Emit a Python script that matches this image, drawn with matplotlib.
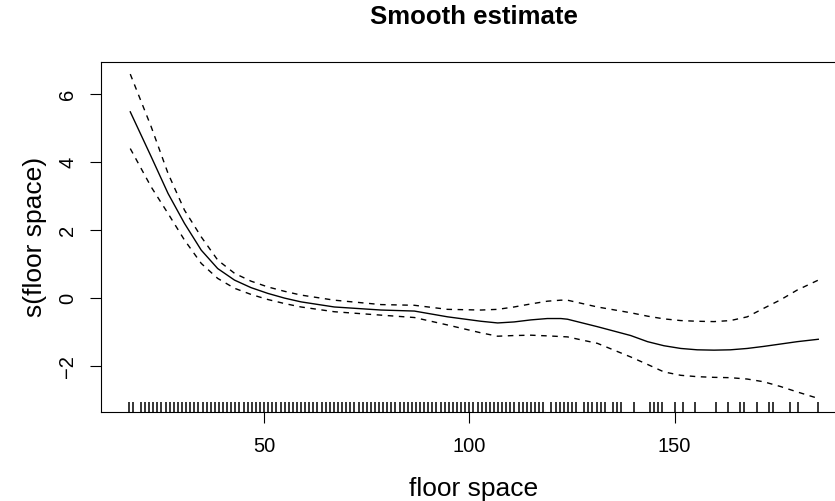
import numpy as np
import matplotlib
matplotlib.use("Agg")
from matplotlib import pyplot as plt

#values
floor_space = [17.4, 22.5, 26.6, 30.6, 34.7, 38.7, 42.8, 46.8, 50.9, 55, 59, 67.1, 78.5, 86.6,
               94.7, 102.8, 106.9, 110.9, 115, 119, 122.3, 123.9, 131.2, 139.3, 143.4,
               147.4, 151.5, 155.5, 159.6, 163.6, 167.7, 171.7, 175.8, 179.9, 185]
fit = [5.48, 4.16, 3.08, 2.2, 1.41, 0.87, 0.53, 0.31, 0.14, 0.0, -0.11, -0.26, -0.35, -0.38,
       -0.55, -0.68, -0.73, -0.70, -0.64, -0.60, -0.60, -0.62, -0.84, -1.10, -1.28,
       -1.40, -1.48, -1.52, -1.53, -1.52, -1.48, -1.42, -1.35, -1.28, -1.21]
upper = [6.59, 5.04, 3.67, 2.59, 1.8, 1.12, 0.73, 0.50, 0.33, 0.20, 0.09, -0.06, -0.19, -0.21,
         -0.33, -0.35, -0.33, -0.26, -0.17, -0.09, -0.06, -0.06, -0.26, -0.43, -0.53,
         -0.61, -0.66, -0.68, -0.69, -0.66, -0.55, -0.30, -0.05, 0.24, 0.53]
lower = [4.4, 3.27, 2.49, 1.71, 1.02, 0.58, 0.29, 0.11, -0.04, -0.16, -0.26, -0.4, -0.5, -0.57,
         -0.79, -1.02, -1.12, -1.10, -1.09, -1.11, -1.13, -1.14, -1.33, -1.73, -1.95,
         -2.17, -2.27, -2.31, -2.33, -2.34, -2.38, -2.46, -2.60, -2.76, -2.95]

#observed floor space values (rug)
rug_x = [17, 18] + list(range(20, 119)) + [120, 121, 122, 123, 124, 125, 126,
         128, 129, 130, 131, 132, 133, 135, 136, 137, 140, 144, 145, 146, 147,
         150, 152, 155, 160, 163, 166, 167, 170, 173, 174, 178, 180, 185]

x_ticks = [50, 100, 150]
y_ticks = [-2, 0, 2, 4, 6]

plt.rcParams['font.family'] = ['Liberation Sans', 'DejaVu Sans']

fig = plt.figure(figsize=(8.35, 5.01), dpi=100)
ax = fig.add_axes([0.121, 0.1776, 0.892, 0.6996])

ax.plot(floor_space, fit, color='black', linewidth=1)
ax.plot(floor_space, upper, color='black', linewidth=1, linestyle=(0, (4, 4)))
ax.plot(floor_space, lower, color='black', linewidth=1, linestyle=(0, (4, 4)))

#rug along the bottom
ax.vlines(rug_x, 0, 0.03, transform=ax.get_xaxis_transform(), color='black', linewidth=1.1)

ax.set_xlim(10.28, 191.72)
ax.set_ylim(-3.35, 6.96)
ax.set_xticks(x_ticks)
ax.set_yticks(y_ticks)
ax.set_yticklabels([str(v).replace('-', '\u2212') for v in y_ticks], rotation=90, va='center')

ax.spines['right'].set_visible(False)
for side in ['left', 'top', 'bottom']:
    ax.spines[side].set_linewidth(0.8)
    ax.spines[side].set_color('black')

ax.tick_params(axis='both', length=8, width=0.8, labelsize=14.5, color='black')
ax.tick_params(axis='x', pad=10)
ax.tick_params(axis='y', pad=9)

ax.set_xlabel('floor space', fontsize=19, labelpad=15)
ax.set_ylabel('s(floor space)', fontsize=19, labelpad=8)
ax.set_title('Smooth estimate', fontsize=18.5, fontweight='bold', pad=27)

plt.savefig('out.png', dpi=100)
